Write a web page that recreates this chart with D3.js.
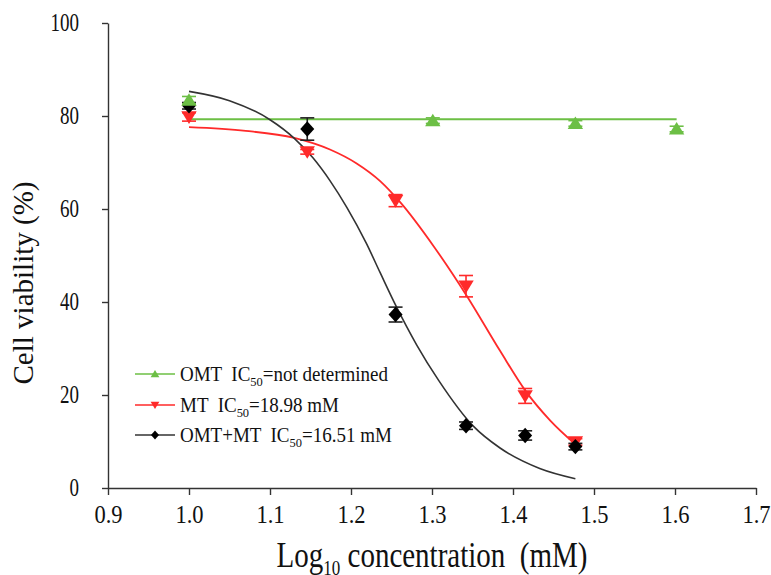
<!DOCTYPE html>
<html>
<head>
<meta charset="utf-8">
<title>Cell viability</title>
<script src="https://d3js.org/d3.v7.min.js"></script>
<style>
  body { margin: 0; background: #fff; }
  text { font-family: "Liberation Serif", "Times New Roman", serif; fill: #111; white-space: pre; }
</style>
</head>
<body>
<div id="chart"></div>
<script>
// axis ticks
const xTicks = [0.9, 1.0, 1.1, 1.2, 1.3, 1.4, 1.5, 1.6, 1.7];
const yTicks = [0, 20, 40, 60, 80, 100];

// OMT (green, triangle up)
const omtX = [1.0, 1.301, 1.477, 1.602];
const omtY = [83.4, 79.0, 78.4, 77.2];
const omtErr = [0.8, 0.6, 0.6, 0.6];
const omtFitX = [1.0, 1.602];
const omtFitY = [79.3, 79.3];

// MT (red, triangle down)
const mtX = [1.0, 1.146, 1.255, 1.342, 1.415, 1.477];
const mtY = [79.8, 72.3, 61.8, 43.4, 19.8, 9.9];
const mtErr = [0.9, 0.5, 1.3, 2.3, 1.6, 0.7];
const mtFitX = [1.0, 1.07, 1.13, 1.174, 1.207, 1.236, 1.262, 1.302, 1.343, 1.384, 1.415, 1.446, 1.477];
const mtFitY = [77.6, 76.8, 75.3, 72.8, 69.8, 66.0, 61.2, 52.0, 41.3, 29.5, 21.0, 14.5, 9.4];

// OMT+MT (black, diamond)
const mixX = [1.0, 1.146, 1.255, 1.342, 1.415, 1.477];
const mixY = [82.2, 77.2, 37.3, 13.4, 11.3, 8.9];
const mixErr = [0.7, 2.4, 1.6, 0.8, 1.0, 0.7];
const mixFitX = [1.0, 1.05, 1.1, 1.13, 1.153, 1.174, 1.195, 1.219, 1.236, 1.256, 1.281, 1.308, 1.351, 1.384, 1.433, 1.477];
const mixFitY = [85.3, 83.3, 79.2, 75.2, 71.0, 66.1, 60.3, 52.6, 46.3, 39.0, 30.8, 23.2, 13.3, 8.6, 4.2, 2.0];

const green = "#6cbf45", red = "#ff2a2a", black = "#000";

const W = 771, H = 575;
const svg = d3.select("#chart").append("svg").attr("width", W).attr("height", H);

const x = d3.scaleLinear().domain([0.9, 1.7]).range([108, 756]);
const y = d3.scaleLinear().domain([0, 100]).range([488, 23]);

// axes
const yAxis = svg.append("g").attr("transform", "translate(108,0)")
  .call(d3.axisLeft(y).tickValues(yTicks).tickSize(6).tickSizeOuter(0).tickPadding(23));
const xAxis = svg.append("g").attr("transform", "translate(0,488)")
  .call(d3.axisBottom(x).tickValues(xTicks).tickSize(7).tickSizeOuter(0).tickFormat(d3.format(".1f")));

[yAxis, xAxis].forEach(a => {
  a.select(".domain").attr("stroke", "#333").attr("stroke-width", 1.4);
  a.selectAll(".tick line").attr("stroke", "#333").attr("stroke-width", 1.4);
  a.selectAll("text").attr("font-family", null).attr("fill", "#111");
});
yAxis.selectAll(".tick text").attr("font-size", 19).attr("transform", "scale(1,1.3)");
xAxis.selectAll(".tick text").attr("font-size", 22.5)
  .attr("y", 31.5).attr("dy", 0).attr("transform", "scale(1,1.1)");

// axis titles
svg.append("text")
  .attr("transform", "translate(33,283) rotate(-90)")
  .attr("text-anchor", "middle").attr("font-size", 29)
  .text("Cell viability (%)");

const xt = svg.append("text")
  .attr("transform", "translate(432,567) scale(1,1.2)")
  .attr("text-anchor", "middle").attr("font-size", 29);
xt.append("tspan").text("Log");
xt.append("tspan").attr("font-size", 17).attr("dy", 7).text("10");
xt.append("tspan").attr("dy", -7).text(" concentration  (mM)");

// fitted curves
const line = d3.line().x(d => x(d[0])).y(d => y(d[1])).curve(d3.curveMonotoneX);
const zip = (a, b) => a.map((v, i) => [v, b[i]]);

svg.append("path").datum(zip(omtFitX, omtFitY)).attr("d", line)
  .attr("fill", "none").attr("stroke", green).attr("stroke-width", 1.8);
svg.append("path").datum(zip(mtFitX, mtFitY)).attr("d", line)
  .attr("fill", "none").attr("stroke", red).attr("stroke-width", 1.8);
svg.append("path").datum(zip(mixFitX, mixFitY)).attr("d", line)
  .attr("fill", "none").attr("stroke", "#333").attr("stroke-width", 1.6);

// error bars + markers
const series = [
  { xs: mtX, ys: mtY, err: mtErr, color: red, sym: "down" },
  { xs: mixX, ys: mixY, err: mixErr, color: black, sym: "diamond" },
  { xs: omtX, ys: omtY, err: omtErr, color: green, sym: "up" }
];

const shape = (sym, s) => {
  if (sym === "up") return `M0,${-s * 0.5}L${s * 0.55},${s * 0.4}L${-s * 0.55},${s * 0.4}Z`;
  if (sym === "down") return `M0,${s * 0.5}L${s * 0.55},${-s * 0.4}L${-s * 0.55},${-s * 0.4}Z`;
  return `M0,${-s * 0.55}L${s * 0.5},0L0,${s * 0.55}L${-s * 0.5},0Z`;
};

series.forEach(s => {
  const g = svg.append("g");
  const pts = zip(s.xs, s.ys).map((p, i) => ({ x: p[0], y: p[1], e: s.err[i] }));
  const eb = g.selectAll(".eb").data(pts).enter().append("g")
    .attr("stroke", s.color === black ? "#222" : s.color)
    .attr("stroke-width", 1.6);
  eb.append("line").attr("x1", d => x(d.x)).attr("x2", d => x(d.x))
    .attr("y1", d => y(d.y + d.e)).attr("y2", d => y(d.y - d.e));
  eb.append("line").attr("x1", d => x(d.x) - 7).attr("x2", d => x(d.x) + 7)
    .attr("y1", d => y(d.y + d.e)).attr("y2", d => y(d.y + d.e));
  eb.append("line").attr("x1", d => x(d.x) - 7).attr("x2", d => x(d.x) + 7)
    .attr("y1", d => y(d.y - d.e)).attr("y2", d => y(d.y - d.e));
  g.selectAll(".pt").data(pts).enter().append("path")
    .attr("transform", d => `translate(${x(d.x)},${y(d.y)})`)
    .attr("d", shape(s.sym, 14))
    .attr("fill", s.color);
});

// legend
const legend = [
  { name: "OMT  IC", tail: "=not determined", color: green, sym: "up", ly: 374 },
  { name: "MT  IC", tail: "=18.98 mM", color: red, sym: "down", ly: 405 },
  { name: "OMT+MT  IC", tail: "=16.51 mM", color: black, sym: "diamond", ly: 435 }
];
const lg = svg.selectAll(".lg").data(legend).enter().append("g");
lg.append("line").attr("x1", 135).attr("x2", 175)
  .attr("y1", d => d.ly).attr("y2", d => d.ly)
  .attr("stroke", d => d.color === black ? "#333" : d.color).attr("stroke-width", 1.6);
lg.append("path").attr("transform", d => `translate(155,${d.ly})`)
  .attr("d", d => shape(d.sym, 8)).attr("fill", d => d.color);
const lt = lg.append("text")
  .attr("transform", d => `translate(180,${d.ly + 7}) scale(1,1.05)`)
  .attr("font-size", 19);
lt.append("tspan").text(d => d.name);
lt.append("tspan").attr("font-size", 12.5).attr("dy", 5).text("50");
lt.append("tspan").attr("dy", -5).text(d => d.tail);
</script>
</body>
</html>
